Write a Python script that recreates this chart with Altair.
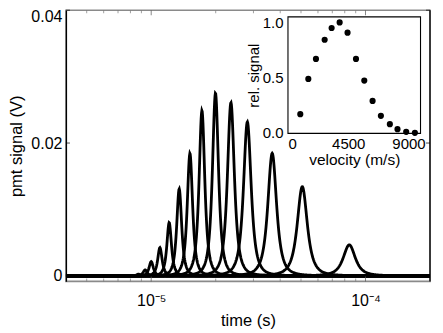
import altair as alt
import numpy as np
import pandas as pd

# ---- data ----
# main panel: time-of-flight peaks (time of peak in s, height in V, half width at half max in decades of time)
peak_times = [8.40e-5, 5.07e-5, 3.67e-5, 2.81e-5, 2.355e-5, 1.995e-5, 1.725e-5, 1.516e-5,
              1.351e-5, 1.213e-5, 1.098e-5, 1.00e-5, 9.37e-6, 8.72e-6, 8.12e-6]
peak_heights = [0.00466, 0.01343, 0.01845, 0.0232, 0.0261, 0.02752, 0.0249, 0.01845,
                0.0131, 0.00802, 0.00426, 0.00215, 0.0009, 0.00025, 0.00003]
peak_halfwidths = [0.033, 0.0275, 0.024, 0.021, 0.019, 0.0167, 0.0156, 0.0146,
                   0.0136, 0.0126, 0.012, 0.0115, 0.0112, 0.011, 0.0108]

# inset: relative signal vs velocity
velocities = [920, 1520, 2090, 2740, 3260, 3860, 4450, 5080, 5700, 6320, 6940, 7610, 8180, 8830, 9480]
rel_signal = [0.169, 0.488, 0.669, 0.843, 0.949, 1.0, 0.907, 0.669, 0.473, 0.289, 0.154, 0.078,
              0.033, 0.009, 0.0]

# axis tick values
x_minor_ticks = [5e-6, 6e-6, 7e-6, 8e-6, 9e-6, 2e-5, 3e-5, 4e-5, 5e-5, 6e-5, 7e-5, 8e-5, 9e-5]
x_major_ticks = [1e-5, 1e-4]
y_ticks = [0.0, 0.02, 0.04]

# ---- build curve table from the peak parameters (Lorentzian^1.5 profile) ----
t_grid = np.logspace(np.log10(4e-6), np.log10(2e-4), 1000)
HALF = np.sqrt(2.0 ** (2.0 / 3.0) - 1.0)  # u at half maximum for (1+u^2)^-1.5
rows = []
for i, (t0, h, hw) in enumerate(zip(peak_times, peak_heights, peak_halfwidths)):
    u = (np.log10(t_grid) - np.log10(t0)) / (hw / HALF)
    s = h / (1.0 + u ** 2) ** 1.5
    rows.append(pd.DataFrame({"t": t_grid, "s": s, "peak": i}))
curves = pd.concat(rows, ignore_index=True)

inset_df = pd.DataFrame({"v": velocities, "r": rel_signal})
one = pd.DataFrame({"a": [0]})

W, H = 364.5, 271.5
FONT = "Liberation Sans"

# inset box inside the main plot area (pixels)
IN_L, IN_R, IN_T, IN_B = 222.3, 355.0, 6.7, 123.3

x_main = alt.Scale(type="log", domain=[4e-6, 2e-4], nice=False)
y_main = alt.Scale(domain=[-0.00083, 0.04], nice=False, zero=False)

lines = alt.Chart(curves).mark_line(color="black", strokeWidth=2.8, clip=True).encode(
    x=alt.X("t:Q", scale=x_main,
            axis=alt.Axis(values=x_major_ticks,
                          labelExpr="datum.value < 5e-5 ? '10⁻⁵' : '10⁻⁴'",
                          title="time (s)", ticks=False, domain=False,
                          labelFontSize=16, labelPadding=11,
                          titleFontSize=16.5, titlePadding=4)),
    y=alt.Y("s:Q", scale=y_main,
            axis=alt.Axis(values=y_ticks,
                          labelExpr="datum.value == 0 ? '0' : format(datum.value, '.2f')",
                          labelOffset={"condition": {"test": "datum.value > 0.03", "value": 6}, "value": 0},
                          title="pmt signal (V)", ticks=False, domain=True,
                          domainColor="black", domainWidth=1.3,
                          labelFontSize=16, labelPadding=4,
                          titleFontSize=16.5, titlePadding=6)),
    detail="peak:N",
)

tick_minor = pd.DataFrame({"t": x_minor_ticks})
tick_major = pd.DataFrame({"t": x_major_ticks})
ytick_df = pd.DataFrame({"s": y_ticks})

bot_minor = alt.Chart(tick_minor).mark_tick(color="#777777", thickness=1, size=3).encode(
    x=alt.X("t:Q", scale=x_main), y=alt.value(H - 1.5))
top_minor = alt.Chart(tick_minor).mark_tick(color="#777777", thickness=1, size=3).encode(
    x=alt.X("t:Q", scale=x_main), y=alt.value(1.5))
bot_major = alt.Chart(tick_major).mark_tick(color="#555555", thickness=1, size=5).encode(
    x=alt.X("t:Q", scale=x_main), y=alt.value(H - 2.5))
top_major = alt.Chart(tick_major).mark_tick(color="#555555", thickness=1, size=5).encode(
    x=alt.X("t:Q", scale=x_main), y=alt.value(2.5))
left_ticks = alt.Chart(ytick_df).mark_tick(color="black", thickness=1, size=4).encode(
    y=alt.Y("s:Q", scale=y_main), x=alt.value(2))
right_ticks = alt.Chart(ytick_df).mark_tick(color="black", thickness=1, size=4).encode(
    y=alt.Y("s:Q", scale=y_main), x=alt.value(W - 2))

right_edge = alt.Chart(one).mark_rule(color="black", strokeWidth=1.3).encode(
    x=alt.value(W), y=alt.value(0), y2=alt.value(H))

main = alt.layer(lines, bot_minor, top_minor, bot_major, top_major, left_ticks, right_ticks, right_edge)

# ---- inset ----
x_in = alt.Scale(domain=[0, 9900], range=[IN_L, IN_R], nice=False, zero=False)
y_in = alt.Scale(domain=[-0.005, 1.05], range=[IN_B, IN_T], nice=False, zero=False)

pts = alt.Chart(inset_df).mark_circle(size=38, color="black", opacity=1).encode(
    x=alt.X("v:Q", scale=x_in,
            axis=alt.Axis(orient="bottom", offset=IN_B - H, values=[0, 4500, 9000], format="d",
                          title="velocity (m/s)", ticks=False, domain=False,
                          labelFontSize=15, labelPadding=3,
                          titleFontSize=15.5, titlePadding=1)),
    y=alt.Y("r:Q", scale=y_in,
            axis=alt.Axis(orient="left", offset=-IN_L, values=[0, 0.5, 1.0], format=".1f",
                          title="rel. signal", ticks=False, domain=False,
                          labelFontSize=15, labelPadding=5,
                          titleFontSize=15, titlePadding=1)),
)
frame = alt.Chart(one).mark_rect(fillOpacity=0, stroke="black", strokeWidth=1.1).encode(
    x=alt.datum(0), x2=alt.datum(9900), y=alt.datum(-0.005), y2=alt.datum(1.05))

inset = alt.layer(frame, pts)

chart = alt.layer(main, inset).resolve_scale(
    x="independent", y="independent"
).resolve_axis(
    x="independent", y="independent"
).properties(
    width=W, height=H,
    autosize=alt.AutoSizeParams(type="none"),
    padding={"left": 58, "top": 2, "right": 5, "bottom": 60},
    background="white",
).configure_view(
    stroke="#8a8a8a", strokeWidth=1.6
).configure_axis(
    labelFont=FONT, titleFont=FONT, labelColor="black", titleColor="black",
    titleFontWeight="normal", grid=False
)

chart.save("out.html", embed_options={"renderer": "svg", "actions": False})
